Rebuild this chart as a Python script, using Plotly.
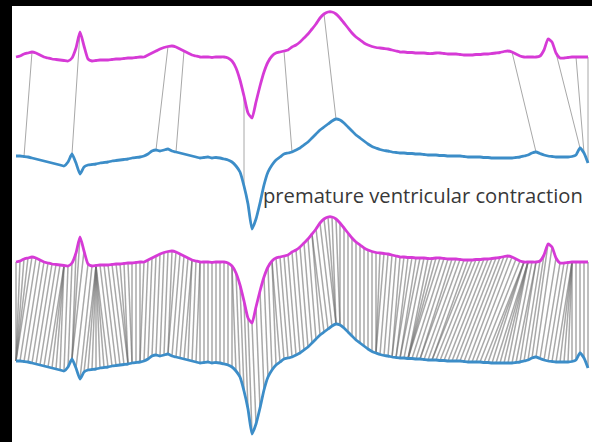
import numpy as np
import plotly.graph_objects as go

# Two ECG excerpts (amplitude, mV), sampled on the same uniform grid.
# "query" contains the premature ventricular contraction, "reference" is the matched beat.
query_mv = [
    0.00, 0.01, 0.03, 0.04, 0.05, 0.04, 0.02, 0.00, -0.01, -0.02, -0.025, -0.03,
    -0.035, -0.04, -0.01, 0.09, 0.25, 0.11, -0.02, -0.04, -0.035, -0.03, -0.03, -0.03,
    -0.025, -0.02, -0.02, -0.015, -0.01, -0.01, -0.005, 0.00, 0.00, 0.02, 0.04, 0.06,
    0.08, 0.095, 0.105, 0.11, 0.10, 0.08, 0.06, 0.04, 0.02, 0.01, 0.00, 0.00,
    0.00, -0.005, 0.00, 0.00, 0.00, -0.01, -0.04, -0.11, -0.23, -0.39, -0.56, -0.61,
    -0.45, -0.29, -0.15, -0.05, 0.01, 0.04, 0.05, 0.06, 0.07, 0.10, 0.12, 0.15,
    0.19, 0.23, 0.28, 0.33, 0.39, 0.43, 0.45, 0.45, 0.43, 0.39, 0.34, 0.29,
    0.24, 0.20, 0.17, 0.14, 0.12, 0.105, 0.095, 0.09, 0.085, 0.08, 0.07, 0.06,
    0.05, 0.05, 0.045, 0.045, 0.04, 0.04, 0.04, 0.035, 0.035, 0.04, 0.04, 0.035,
    0.03, 0.03, 0.03, 0.025, 0.02, 0.02, 0.02, 0.025, 0.025, 0.03, 0.03, 0.035,
    0.04, 0.045, 0.055, 0.06, 0.05, 0.03, 0.01, 0.00, 0.00, 0.00, 0.00, 0.01,
    0.07, 0.18, 0.15, 0.04, -0.01, -0.01, -0.005, 0.00, 0.00, 0.00, 0.00, 0.00,
]
reference_mv = [
    0.01, 0.01, 0.005, 0.00, -0.01, -0.02, -0.03, -0.04, -0.05, -0.06, -0.07, -0.08,
    -0.09, -0.05, 0.03, -0.06, -0.17, -0.10, -0.08, -0.075, -0.07, -0.06, -0.055, -0.05,
    -0.04, -0.035, -0.03, -0.025, -0.02, -0.01, -0.005, 0.00, 0.01, 0.03, 0.06, 0.07,
    0.06, 0.07, 0.08, 0.06, 0.05, 0.04, 0.03, 0.02, 0.01, 0.00, -0.01, -0.005,
    0.00, -0.01, -0.005, -0.01, -0.02, -0.03, -0.05, -0.09, -0.15, -0.29, -0.47, -0.72,
    -0.62, -0.46, -0.28, -0.15, -0.08, -0.03, 0.00, 0.03, 0.04, 0.05, 0.07, 0.09,
    0.12, 0.15, 0.19, 0.23, 0.27, 0.30, 0.33, 0.36, 0.38, 0.37, 0.34, 0.30,
    0.26, 0.22, 0.19, 0.16, 0.13, 0.105, 0.09, 0.075, 0.065, 0.06, 0.05, 0.045,
    0.04, 0.04, 0.035, 0.035, 0.03, 0.03, 0.025, 0.02, 0.02, 0.02, 0.015, 0.015,
    0.01, 0.01, 0.01, 0.01, 0.005, 0.00, 0.00, 0.00, 0.00, -0.005, -0.005, -0.01,
    -0.01, -0.01, -0.01, -0.01, -0.01, -0.005, 0.00, 0.01, 0.02, 0.04, 0.05, 0.035,
    0.02, 0.01, 0.005, 0.00, 0.00, 0.00, 0.00, 0.005, 0.02, 0.09, 0.04, -0.06,
]

# Selected alignments shown in the upper view: (query sample, reference sample)
sparse_links = [(4, 2), (16, 14), (38, 35), (42, 40), (57, 57), (67, 69),
                (77, 80), (124, 130), (135, 141), (140, 142), (143, 143)]

# Vertical stacking of the four traces (mV)
QUERY_TOP, REF_TOP = 3.85, 2.85
QUERY_BOTTOM, REF_BOTTOM = 1.80, 0.80

MAGENTA = "#d63ad6"
BLUE = "#3c8dc8"

q = np.asarray(query_mv)
r = np.asarray(reference_mv)
t = np.arange(len(q))


def dtw_path(a, b, band=10, step_penalty=0.006, slope_weight=0.8):
    """DTW on amplitude + local slope, with a Sakoe-Chiba band and a
    small penalty on non-diagonal steps to keep the warping smooth."""
    da, db = np.gradient(a), np.gradient(b)
    n, m = len(a), len(b)
    cost = np.full((n + 1, m + 1), np.inf)
    cost[0, 0] = 0.0
    for i in range(1, n + 1):
        for j in range(max(1, i - band), min(m, i + band) + 1):
            d = abs(a[i - 1] - b[j - 1]) + slope_weight * abs(da[i - 1] - db[j - 1])
            cost[i, j] = d + min(cost[i - 1, j - 1],
                                 cost[i - 1, j] + step_penalty,
                                 cost[i, j - 1] + step_penalty)
    i, j = n, m
    path = []
    while i > 0 and j > 0:
        path.append((i - 1, j - 1))
        options = [cost[i - 1, j - 1], cost[i - 1, j] + step_penalty, cost[i, j - 1] + step_penalty]
        step = int(np.argmin(options))
        if step == 0:
            i, j = i - 1, j - 1
        elif step == 1:
            i -= 1
        else:
            j -= 1
    return path[::-1]


path = dtw_path(q, r)


def connectors(pairs, y_q, y_r):
    xs, ys = [], []
    for i, j in pairs:
        xs += [t[i], t[j], None]
        ys += [y_q + q[i], y_r + r[j], None]
    return xs, ys


fig = go.Figure()

sx, sy = connectors(sparse_links, QUERY_TOP, REF_TOP)
fig.add_trace(go.Scatter(x=sx, y=sy, mode="lines",
                         line=dict(color="#a8a8a8", width=1), hoverinfo="skip"))

dx, dy = connectors(path, QUERY_BOTTOM, REF_BOTTOM)
fig.add_trace(go.Scatter(x=dx, y=dy, mode="lines",
                         line=dict(color="rgba(110,110,110,0.6)", width=1.5), hoverinfo="skip"))

for offset_q, offset_r in [(QUERY_TOP, REF_TOP), (QUERY_BOTTOM, REF_BOTTOM)]:
    fig.add_trace(go.Scatter(x=t, y=q + offset_q, mode="lines",
                             line=dict(color=MAGENTA, width=2.8, shape="spline", smoothing=0.5)))
    fig.add_trace(go.Scatter(x=t, y=r + offset_r, mode="lines",
                             line=dict(color=BLUE, width=2.8, shape="spline", smoothing=0.5)))

fig.add_annotation(x=61.3, y=2.47, xref="x", yref="y", text="premature ventricular contraction",
                   showarrow=False, xanchor="left", yanchor="middle",
                   font=dict(family="Open Sans", size=20.2, color="#383838"))

fig.update_layout(
    width=592, height=442,
    margin=dict(l=12, r=0, t=6, b=0),
    paper_bgcolor="black", plot_bgcolor="white",
    showlegend=False,
    xaxis=dict(range=[-1, 144], visible=False, fixedrange=True),
    yaxis=dict(range=[0, 4.36], visible=False, fixedrange=True),
)

fig.write_html("out.html")
